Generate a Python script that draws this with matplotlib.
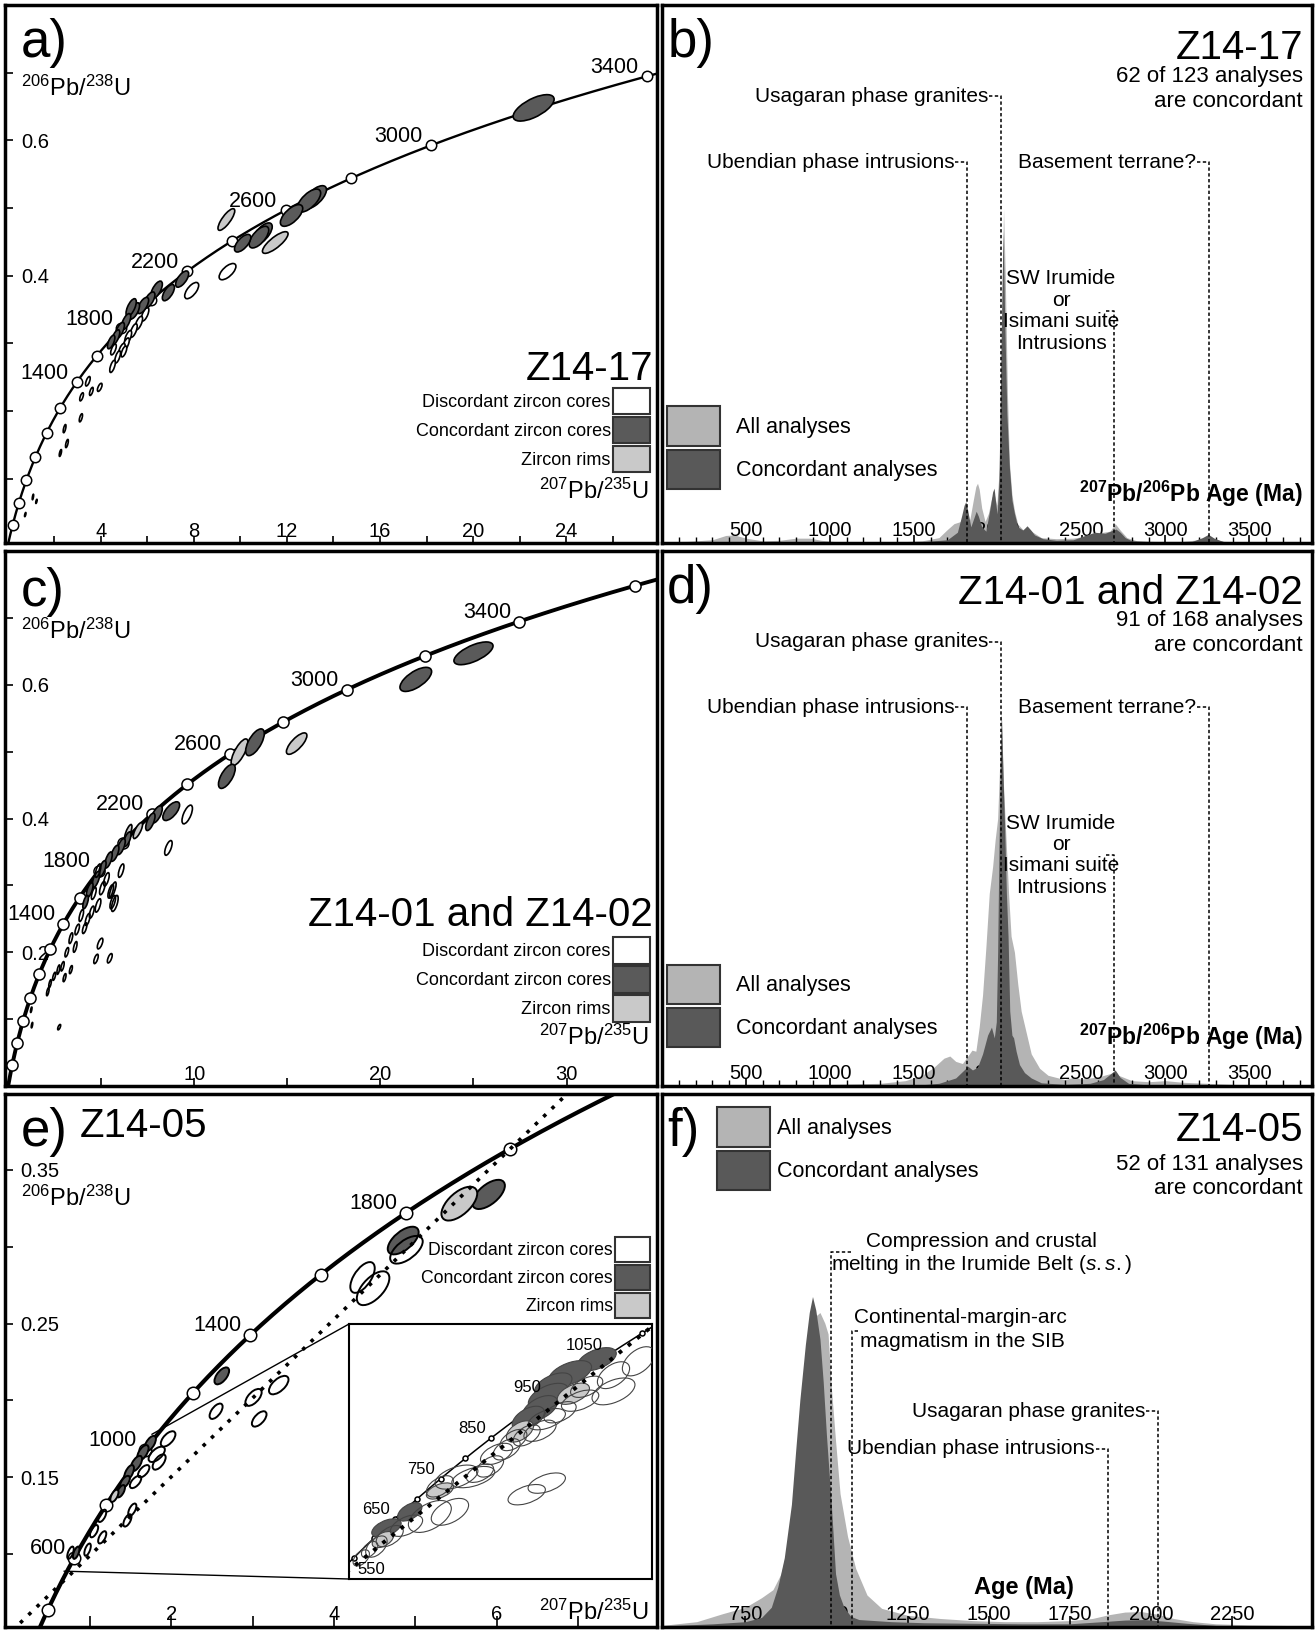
#!/usr/bin/env python3
import numpy as np
import matplotlib
matplotlib.use("Agg")
import matplotlib.pyplot as plt
from matplotlib import font_manager
from matplotlib.patches import Ellipse, Patch, ConnectionPatch
from matplotlib.ticker import MultipleLocator
from matplotlib.transforms import Affine2D, blended_transform_factory

# U-Pb decay constants, 1/Ma
L238 = 1.55125e-4
L235 = 9.8485e-4

# ---------------- a) Z14-17 concordia ----------------
a_marker_ages = [200, 400, 600, 800, 1000, 1200, 1400, 1600, 1800, 2000,
                 2200, 2400, 2600, 2800, 3000, 3200, 3400]
a_label_ages = [1400, 1800, 2200, 2600, 3000, 3400]
a_xticks = [2, 4, 6, 8, 10, 12, 14, 16, 18, 20, 22, 24, 26]
a_xticklabels = ['', '4', '', '8', '', '12', '', '16', '', '20', '', '24', '']
a_yticks = [0.1, 0.2, 0.3, 0.4, 0.5, 0.6, 0.7]
a_yticklabels = ['', '', '', '0.4', '', '0.6', '']
# ellipses: (207Pb/235U, 206Pb/238U, half-width x, half-width y)
a_conc = [(22.6, 0.648, 0.88, 0.0195), (13.2, 0.516, 0.50, 0.017), (12.95, 0.511, 0.50, 0.017),
          (12.2, 0.489, 0.48, 0.016), (10.95, 0.462, 0.42, 0.016), (10.8, 0.457, 0.42, 0.016),
          (10.1, 0.448, 0.35, 0.013), (7.5, 0.395, 0.28, 0.012), (6.91, 0.375, 0.26, 0.012),
          (6.4, 0.379, 0.25, 0.013), (6.09, 0.364, 0.24, 0.012), (5.82, 0.356, 0.24, 0.012),
          (5.45, 0.348, 0.22, 0.012), (5.31, 0.353, 0.22, 0.013), (5.09, 0.332, 0.20, 0.012),
          (4.82, 0.319, 0.20, 0.012), (4.64, 0.309, 0.18, 0.011), (4.45, 0.302, 0.16, 0.010)]
a_rims = [(9.4, 0.483, 0.36, 0.016), (11.5, 0.449, 0.55, 0.016)]
a_disc = [(9.45, 0.406, 0.36, 0.012), (7.91, 0.378, 0.30, 0.012), (5.91, 0.343, 0.16, 0.010),
          (5.64, 0.330, 0.16, 0.010), (5.42, 0.319, 0.15, 0.010), (5.18, 0.309, 0.15, 0.010),
          (5.09, 0.299, 0.14, 0.009), (4.91, 0.291, 0.14, 0.009), (4.73, 0.280, 0.12, 0.009),
          (4.55, 0.291, 0.12, 0.008), (4.51, 0.266, 0.12, 0.009), (5.0, 0.288, 0.12, 0.008),
          (3.45, 0.244, 0.10, 0.007), (3.96, 0.235, 0.10, 0.006), (3.6, 0.229, 0.08, 0.006),
          (3.18, 0.221, 0.08, 0.006), (3.15, 0.190, 0.07, 0.006), (2.45, 0.174, 0.06, 0.006),
          (2.55, 0.152, 0.06, 0.006), (2.27, 0.138, 0.05, 0.005), (1.09, 0.073, 0.03, 0.004),
          (1.24, 0.0665, 0.03, 0.003), (0.76, 0.047, 0.03, 0.003)]

# ---------------- b) Z14-17 density ----------------
b_all_age = [0, 150, 300, 380, 430, 500, 600, 700, 800, 880,
             950, 1050, 1200, 1400, 1550, 1650, 1700, 1740, 1780, 1810,
             1835, 1855, 1870, 1880, 1890, 1905, 1925, 1945, 1965, 1980,
             1995, 2010, 2022, 2035, 2045, 2058, 2070, 2085, 2100, 2120,
             2150, 2180, 2210, 2260, 2350, 2450, 2530, 2580, 2630, 2670,
             2700, 2730, 2770, 2830, 2950, 3100, 3200, 3250, 3290, 3350,
             3500, 3873]
b_all_dens = [0.2, 0.3, 0.6, 1.4, 1.5, 0.9, 0.4, 0.5, 0.9, 0.9,
              0.5, 0.2, 0.2, 0.2, 0.4, 1.0, 2.5, 3.6, 4.0, 3.8,
              4.5, 8.0, 10.5, 11.1, 10.0, 6.5, 4.0, 5.5, 8.5, 9.0,
              7.0, 14, 40, 62, 50, 28, 15, 9, 6, 3.5,
              2.5, 2.8, 2.0, 1.0, 0.8, 0.9, 1.3, 1.8, 2.0, 2.2,
              3.6, 2.4, 1.0, 0.4, 0.3, 0.3, 0.6, 1.1, 0.7, 0.3,
              0.2, 0.1]
b_conc_age = [0, 400, 900, 1500, 1700, 1760, 1785, 1800, 1810, 1822,
              1840, 1860, 1872, 1885, 1905, 1930, 1955, 1970, 1979, 1988,
              1997, 2008, 2020, 2032, 2043, 2055, 2070, 2085, 2100, 2120,
              2150, 2175, 2195, 2220, 2270, 2350, 2450, 2520, 2580, 2640,
              2680, 2705, 2730, 2760, 2800, 2950, 3150, 3220, 3255, 3290,
              3350, 3873]
b_conc_dens = [0.1, 0.2, 0.2, 0.1, 0.6, 2.0, 5.0, 7.0, 7.7, 6.0,
               3.0, 4.8, 5.9, 5.0, 3.0, 2.2, 6.5, 9.5, 10.2, 7.5,
               5.4, 12, 35, 58, 40, 24, 14, 8, 5.5, 3.0,
               2.4, 3.2, 2.5, 1.5, 0.8, 0.5, 0.6, 1.4, 2.0, 1.8,
               2.3, 2.6, 2.0, 1.0, 0.4, 0.2, 0.2, 1.0, 1.6, 0.9,
               0.2, 0.05]
bd_ticks = [500, 1000, 1500, 2000, 2500, 3000, 3500]
# event lines shared by b) and d): ages (Ma)
ubendian_age, usagaran_age, irumide_age, basement_age = 1820, 2020, 2694, 3260

# ---------------- c) Z14-01 and Z14-02 concordia ----------------
c_marker_ages = [200, 400, 600, 800, 1000, 1200, 1400, 1600, 1800, 2000,
                 2200, 2400, 2600, 2800, 3000, 3200, 3400, 3600]
c_label_ages = [1400, 1800, 2200, 2600, 3000, 3400]
c_xticks = [5, 10, 15, 20, 25, 30]
c_xticklabels = ['', '10', '', '20', '', '30']
c_yticks = [0.1, 0.2, 0.3, 0.4, 0.5, 0.6, 0.7]
c_yticklabels = ['', '0.2', '', '0.4', '', '0.6', '']
c_conc = [(25.0, 0.647, 1.05, 0.017), (21.9, 0.608, 0.85, 0.018), (13.26, 0.514, 0.50, 0.020),
          (11.75, 0.463, 0.45, 0.018), (8.76, 0.411, 0.45, 0.014), (7.98, 0.406, 0.30, 0.013),
          (7.64, 0.395, 0.25, 0.013), (6.4, 0.369, 0.20, 0.011), (6.07, 0.358, 0.22, 0.012),
          (5.73, 0.348, 0.22, 0.012), (5.39, 0.338, 0.20, 0.012), (5.06, 0.325, 0.20, 0.012),
          (4.72, 0.309, 0.20, 0.012), (4.38, 0.293, 0.18, 0.011), (4.16, 0.275, 0.15, 0.010)]
c_rims = [(15.5, 0.512, 0.55, 0.016), (12.43, 0.499, 0.45, 0.020), (6.97, 0.382, 0.25, 0.012),
          (6.45, 0.379, 0.20, 0.012), (5.62, 0.293, 0.18, 0.012)]
c_disc = [(9.62, 0.406, 0.28, 0.014), (8.61, 0.356, 0.20, 0.011), (6.07, 0.322, 0.15, 0.010),
          (5.73, 0.273, 0.18, 0.012), (5.51, 0.291, 0.15, 0.010), (4.83, 0.270, 0.15, 0.010),
          (4.49, 0.260, 0.13, 0.009), (4.27, 0.249, 0.13, 0.009), (3.93, 0.255, 0.12, 0.009),
          (4.11, 0.236, 0.12, 0.008), (3.71, 0.234, 0.12, 0.008), (3.37, 0.221, 0.10, 0.008),
          (3.6, 0.208, 0.10, 0.008), (3.15, 0.200, 0.10, 0.007), (4.94, 0.213, 0.15, 0.008),
          (4.72, 0.190, 0.12, 0.007), (5.46, 0.191, 0.13, 0.007), (2.92, 0.179, 0.09, 0.007),
          (2.7, 0.174, 0.08, 0.007), (2.47, 0.164, 0.08, 0.006), (3.37, 0.174, 0.08, 0.006),
          (3.03, 0.162, 0.08, 0.006), (2.25, 0.153, 0.07, 0.006), (2.13, 0.141, 0.07, 0.006),
          (1.24, 0.114, 0.04, 0.004), (1.28, 0.091, 0.04, 0.004), (2.74, 0.088, 0.08, 0.004),
          (4.83, 0.322, 0.15, 0.010), (5.28, 0.309, 0.15, 0.010), (5.06, 0.296, 0.15, 0.010),
          (4.6, 0.288, 0.13, 0.009), (5.62, 0.275, 0.15, 0.010)]

# ---------------- d) Z14-01 and Z14-02 density ----------------
d_all_age = [0, 500, 1000, 1300, 1450, 1550, 1620, 1680, 1715, 1750,
             1790, 1820, 1847, 1870, 1890, 1910, 1930, 1950, 1970, 1985,
             2000, 2012, 2022, 2035, 2050, 2065, 2080, 2100, 2120, 2140,
             2170, 2200, 2250, 2300, 2400, 2450, 2500, 2600, 2680, 2720,
             2800, 2900, 3000, 3100, 3250, 3400, 3600, 3873]
d_all_dens = [0.1, 0.2, 0.3, 0.5, 1.0, 2.0, 3.5, 5.2, 5.6, 4.6,
              4.2, 5.5, 6.7, 6.5, 11, 17, 26, 36, 41, 46,
              50, 60, 69.7, 56, 46, 36, 28, 25, 19, 14,
              10, 6, 3.3, 2.0, 1.2, 1.6, 1.3, 1.7, 2.4, 2.0,
              1.0, 0.8, 1.0, 0.7, 0.5, 0.3, 0.2, 0.1]
d_conc_age = [0, 1500, 1650, 1750, 1800, 1822, 1850, 1880, 1910, 1940,
              1963, 1980, 1992, 2000, 2008, 2015, 2022, 2032, 2042, 2052,
              2062, 2072, 2085, 2095, 2110, 2130, 2160, 2200, 2260, 2400,
              2550, 2630, 2670, 2700, 2730, 2780, 2900, 3100, 3400, 3873]
d_conc_dens = [0.05, 0.1, 0.5, 1.5, 3.0, 3.7, 3.0, 3.5, 6.0, 9.5,
               11, 9.0, 12, 25, 45, 58, 69.7, 58, 48, 36,
               28, 14, 9.5, 9.0, 6.5, 4.0, 2.5, 1.5, 0.6, 0.3,
               0.5, 1.2, 2.2, 3.0, 1.6, 0.5, 0.2, 0.2, 0.1, 0.05]

# ---------------- e) Z14-05 concordia ----------------
e_marker_ages = [400, 600, 800, 1000, 1200, 1400, 1600, 1800, 2000]
e_label_ages = [600, 1000, 1400, 1800]
e_xticks = [1, 2, 3, 4, 5, 6, 7]
e_xticklabels = ['', '2', '', '4', '', '6', '']
e_yticks = [0.10, 0.15, 0.20, 0.25, 0.30, 0.35]
e_yticklabels = ['', '0.15', '', '0.25', '', '0.35']
e_discordia_ages = [500, 2000]
e_zoom_corners = [(0.68, 0.089), (1.76, 0.178)]
e_conc = [(5.90, 0.334, 0.20, 0.0095), (4.85, 0.304, 0.19, 0.009), (2.62, 0.216, 0.09, 0.0055),
          (1.74, 0.172, 0.07, 0.005), (1.65, 0.166, 0.07, 0.005), (1.57, 0.159, 0.07, 0.005),
          (1.48, 0.153, 0.06, 0.005), (1.43, 0.147, 0.06, 0.004), (1.38, 0.141, 0.05, 0.004),
          (0.83, 0.101, 0.04, 0.004)]
e_rims = [(5.54, 0.328, 0.22, 0.011), (1.30, 0.138, 0.05, 0.004)]
e_disc = [(4.89, 0.298, 0.20, 0.009), (4.35, 0.280, 0.15, 0.010), (4.48, 0.273, 0.20, 0.011),
          (3.32, 0.210, 0.12, 0.006), (3.01, 0.202, 0.10, 0.0055), (3.08, 0.188, 0.09, 0.005),
          (2.55, 0.193, 0.08, 0.005), (1.96, 0.175, 0.09, 0.005), (1.82, 0.165, 0.10, 0.005),
          (1.85, 0.160, 0.08, 0.005), (1.66, 0.154, 0.07, 0.004), (1.56, 0.147, 0.07, 0.004),
          (1.52, 0.129, 0.05, 0.004), (1.46, 0.122, 0.05, 0.004), (1.15, 0.125, 0.05, 0.004),
          (1.05, 0.115, 0.05, 0.004), (1.15, 0.111, 0.05, 0.004), (0.97, 0.103, 0.04, 0.004),
          (0.76, 0.101, 0.04, 0.004)]
# inset of e)
in_marker_ages = [550, 600, 650, 700, 750, 800, 850, 900, 950, 1000, 1050, 1100]
in_label_ages = [550, 650, 750, 850, 950, 1050]
in_discordia_ages = [450, 1110]
in_conc = [(1.762, 0.1749, 0.083, 0.0050), (1.647, 0.1688, 0.092, 0.0055), (1.575, 0.1638, 0.080, 0.0052),
           (1.554, 0.1588, 0.086, 0.0057), (1.518, 0.1537, 0.075, 0.0055), (1.468, 0.1494, 0.069, 0.0052),
           (0.96, 0.109, 0.052, 0.0040), (0.86, 0.102, 0.063, 0.0040)]
in_rims = [(0.845, 0.097, 0.046, 0.0035), (1.089, 0.118, 0.058, 0.0035), (1.432, 0.1437, 0.058, 0.0046),
           (1.661, 0.160, 0.069, 0.0046)]
in_disc = [(1.94, 0.174, 0.069, 0.0063), (1.833, 0.168, 0.069, 0.0058), (1.833, 0.161, 0.092, 0.0058),
           (1.718, 0.163, 0.069, 0.0046), (1.69, 0.157, 0.080, 0.0046), (1.604, 0.152, 0.069, 0.0046),
           (1.547, 0.149, 0.080, 0.0046), (1.518, 0.144, 0.069, 0.0046), (1.461, 0.142, 0.058, 0.0046),
           (1.404, 0.140, 0.058, 0.0046), (1.375, 0.136, 0.058, 0.0046), (1.332, 0.134, 0.069, 0.0046),
           (1.304, 0.1286, 0.058, 0.0046), (1.261, 0.1257, 0.058, 0.0040), (1.232, 0.124, 0.092, 0.0046),
           (1.16, 0.124, 0.092, 0.0052), (1.089, 0.120, 0.058, 0.0046), (1.132, 0.109, 0.080, 0.0058),
           (1.046, 0.107, 0.092, 0.0069), (0.946, 0.103, 0.069, 0.0046), (0.874, 0.0985, 0.058, 0.0046),
           (0.817, 0.094, 0.046, 0.0046), (1.547, 0.1214, 0.080, 0.0044), (1.461, 0.1164, 0.080, 0.0044),
           (0.788, 0.0927, 0.035, 0.0035), (0.752, 0.0891, 0.035, 0.0035)]

# ---------------- f) Z14-05 density ----------------
f_all_age = [493, 600, 680, 750, 800, 835, 860, 880, 900, 920,
             940, 960, 980, 995, 1005, 1015, 1028, 1042, 1065, 1090,
             1125, 1170, 1250, 1350, 1450, 1550, 1650, 1750, 1820, 1870,
             1920, 1970, 2020, 2070, 2130, 2200, 2300, 2400, 2497]
f_all_dens = [0.3, 1.0, 2.5, 3.7, 5.5, 7.0, 10, 15, 25, 38,
              50, 58, 59, 57, 55, 45, 35, 25, 17, 11,
              6, 3.5, 2.2, 1.6, 1.2, 1.0, 1.0, 1.2, 1.6, 2.3,
              2.8, 2.9, 2.4, 1.6, 1.0, 0.6, 0.4, 0.3, 0.2]
f_conc_age = [493, 650, 750, 800, 830, 850, 870, 892, 905, 918,
              935, 947, 957, 967, 980, 990, 1000, 1015, 1028, 1040,
              1054, 1075, 1100, 1200, 1300, 1450, 1600, 1750, 1850, 1920,
              1980, 2040, 2110, 2200, 2497]
f_conc_dens = [0.2, 0.6, 1.0, 1.8, 3.7, 7.5, 13, 23, 33, 42.6,
               53, 59, 62, 59.5, 54, 46, 36, 23, 10, 6,
               3.7, 2.0, 1.4, 1.0, 0.8, 0.7, 0.6, 0.6, 1.0, 1.3,
               1.4, 1.1, 0.7, 0.3, 0.1]
f_ticks = [750, 1000, 1250, 1500, 1750, 2000, 2250]
f_irumide_age, f_sib_age, f_ubendian_age, f_usagaran_age = 1015, 1079, 1868, 2023

# ---------------- style ----------------
names = {f.name for f in font_manager.fontManager.ttflist}
FONT = 'Liberation Sans' if 'Liberation Sans' in names else 'DejaVu Sans'
plt.rcParams['font.family'] = FONT
plt.rcParams['mathtext.fontset'] = 'custom'
plt.rcParams['mathtext.rm'] = FONT
plt.rcParams['mathtext.it'] = FONT + ':italic'
plt.rcParams['mathtext.bf'] = FONT + ':bold'

DARK = '#5a5a5a'
RIM = '#c9c9c9'
KDE_ALL = '#b4b4b4'
KDE_CONC = '#595959'
DASH = (0, (2.2, 1.6))
TICK_SIZE = 14.5
Y_LABEL = r'$\mathregular{^{206}Pb/^{238}U}$'
X_LABEL = r'$\mathregular{^{207}Pb/^{235}U}$'


def concordia(t):
    t = np.asarray(t, dtype=float)
    return np.exp(L235 * t) - 1, np.exp(L238 * t) - 1


def add_ellipses(ax, rows, face, rho, lw=1.2, edge='black', z=4):
    for x, y, sx, sy in rows:
        m = np.array([[sx, 0.0, x],
                      [sy * rho, sy * np.sqrt(1 - rho ** 2), y],
                      [0.0, 0.0, 1.0]])
        ax.add_patch(Ellipse((0, 0), 2, 2, transform=Affine2D(m) + ax.transData,
                             facecolor=face, edgecolor=edge, linewidth=lw, zorder=z))


def draw_concordia(ax, t_max, marker_ages, label_ages, lw, ms, size, off=(-6, -1)):
    t = np.linspace(0, t_max, 800)
    cx, cy = concordia(t)
    ax.plot(cx, cy, color='black', lw=lw, zorder=2)
    mx, my = concordia(marker_ages)
    ax.plot(mx, my, 'o', ms=ms, mfc='white', mec='black', mew=1.1, zorder=3)
    lx, ly = concordia(label_ages)
    for age, x, y in zip(label_ages, lx, ly):
        ax.annotate(str(age), (x, y), xytext=off, textcoords='offset points',
                    ha='right', va='bottom', fontsize=size, zorder=7)


def concordia_axes(ax, xlim, ylim, xticks, xlabels, yticks, ylabels, xpad, ypad, xlen):
    ax.set_xlim(*xlim)
    ax.set_ylim(*ylim)
    ax.set_xticks(xticks, xlabels)
    ax.set_yticks(yticks, ylabels)
    ax.tick_params(axis='x', direction='in', length=xlen, width=1.2, labelsize=TICK_SIZE, pad=xpad)
    ax.tick_params(axis='y', direction='in', length=6, width=1.2, labelsize=TICK_SIZE, pad=ypad)
    plt.setp(ax.get_xticklabels(), va='bottom')
    plt.setp(ax.get_yticklabels(), ha='left')


def zircon_legend(ax, anchor, size, hl, hh):
    handles = [Patch(fc='white', ec='#333333', lw=1.5),
               Patch(fc=DARK, ec='#333333', lw=1.5),
               Patch(fc=RIM, ec='#333333', lw=1.5)]
    labels = ['Discordant zircon cores', 'Concordant zircon cores', 'Zircon rims']
    lg = ax.legend(handles, labels, loc='lower right', bbox_to_anchor=anchor, frameon=False,
                   markerfirst=False, fontsize=size, handlelength=hl, handleheight=hh,
                   handletextpad=0.15, labelspacing=0.14, borderpad=0, borderaxespad=0)
    lg.set_zorder(8)


def kde_legend(ax, loc, anchor, pad):
    handles = [Patch(fc=KDE_ALL, ec='#333333', lw=1.5), Patch(fc=KDE_CONC, ec='#333333', lw=1.5)]
    lg = ax.legend(handles, ['All analyses', 'Concordant analyses'], loc=loc, bbox_to_anchor=anchor,
                   frameon=False, fontsize=15.5, handlelength=2.45, handleheight=2.44,
                   handletextpad=pad, labelspacing=0.18, borderpad=0, borderaxespad=0)
    lg.set_zorder(8)


def kde_axes(ax, all_age, all_dens, conc_age, conc_dens, xlim, ticks, minor, major_len, pad):
    ax.fill_between(all_age, all_dens, 0, color=KDE_ALL, lw=0, zorder=1)
    ax.fill_between(conc_age, conc_dens, 0, color=KDE_CONC, lw=0, zorder=2)
    ax.set_xlim(*xlim)
    ax.set_ylim(0, 100)
    ax.set_yticks([])
    ax.set_xticks(ticks, [str(v) for v in ticks])
    if minor:
        ax.xaxis.set_minor_locator(MultipleLocator(minor))
    ax.tick_params(axis='x', which='major', direction='in', length=major_len, width=1.2,
                   labelsize=TICK_SIZE, pad=pad)
    ax.tick_params(axis='x', which='minor', direction='in', length=4, width=1.0)
    plt.setp(ax.get_xticklabels(), va='bottom')


def px_to_data(ax, px):
    x0, x1 = ax.get_xlim()
    return px * (x1 - x0) / ax.bbox.width


def dashed(ax, xs, ys):
    tr = blended_transform_factory(ax.transData, ax.transAxes)
    ax.plot(xs, ys, transform=tr, color='black', lw=1.1, ls=DASH, zorder=6)


def label_left(ax, text, age, yfrac, size=15):
    gap = px_to_data(ax, 13)
    tr = blended_transform_factory(ax.transData, ax.transAxes)
    ax.text(age - gap, yfrac, text, transform=tr, ha='right', va='center', fontsize=size, zorder=7)
    dashed(ax, [age - gap + px_to_data(ax, 1), age, age], [yfrac, yfrac, 0])


def block_text(ax, lines, x, yfracs, ha='center', size=15):
    tr = blended_transform_factory(ax.transData, ax.transAxes)
    for s, y in zip(lines, yfracs):
        ax.text(x, y, s, transform=tr, ha=ha, va='center', fontsize=size, zorder=7)


def frame(ax, lw=2.5):
    for s in ax.spines.values():
        s.set_linewidth(lw)


def atext(ax, x, y, s, **kw):
    ax.text(x, y, s, transform=ax.transAxes, zorder=9, **kw)


# ---------------- figure ----------------
fig = plt.figure(figsize=(13.15, 16.3), dpi=100)


def panel(l, t, r, b):
    return fig.add_axes([l / 1315, 1 - b / 1630, (r - l) / 1315, (b - t) / 1630])


ax_a = panel(5, 5, 657, 543)
ax_b = panel(662, 5, 1312, 543)
ax_c = panel(5, 551, 657, 1086)
ax_d = panel(662, 551, 1312, 1086)
ax_e = panel(5, 1094, 657, 1627)
ax_f = panel(662, 1094, 1312, 1627)

# ---- a)
draw_concordia(ax_a, 3800, a_marker_ages, a_label_ages, lw=1.7, ms=7.5, size=15.5)
add_ellipses(ax_a, a_disc, 'white', 0.65)
add_ellipses(ax_a, a_rims, RIM, 0.8)
add_ellipses(ax_a, a_conc, DARK, 0.65)
concordia_axes(ax_a, (-0.11, 27.9), (0.005, 0.8), a_xticks, a_xticklabels, a_yticks, a_yticklabels,
               xpad=-1.5, ypad=-12, xlen=5)
atext(ax_a, 0.024, 0.975, 'a)', fontsize=38, ha='left', va='top')
atext(ax_a, 0.024, 0.845, Y_LABEL, fontsize=17, ha='left', va='center')
atext(ax_a, 0.994, 0.323, 'Z14-17', fontsize=29, ha='right', va='center')
atext(ax_a, 0.987, 0.097, X_LABEL, fontsize=17, ha='right', va='center')
zircon_legend(ax_a, (0.99, 0.1315), 13, 2.05, 1.88)

# ---- b)
kde_axes(ax_b, b_all_age, b_all_dens, b_conc_age, b_conc_dens, (0, 3873), bd_ticks, 100, 6, -2)


def event_lines(ax):
    label_left(ax, 'Usagaran phase granites', usagaran_age, 0.830)
    label_left(ax, 'Ubendian phase intrusions', ubendian_age, 0.708)
    label_left(ax, 'Basement terrane?', basement_age, 0.708)
    block_text(ax, ['SW Irumide', 'or', 'Isimani suite', 'Intrusions'], 2378,
               [0.491, 0.451, 0.412, 0.371])
    dashed(ax, [irumide_age - px_to_data(ax, 8), irumide_age, irumide_age], [0.432, 0.432, 0])


event_lines(ax_b)
atext(ax_b, 0.008, 0.975, 'b)', fontsize=38, ha='left', va='top')
atext(ax_b, 0.986, 0.955, 'Z14-17', fontsize=29, ha='right', va='top')
atext(ax_b, 0.986, 0.867, '62 of 123 analyses', fontsize=16, ha='right', va='center')
atext(ax_b, 0.986, 0.820, 'are concordant', fontsize=16, ha='right', va='center')
atext(ax_b, 0.986, 0.091, r'$\mathbf{^{207}Pb/^{206}Pb}$ Age (Ma)', fontsize=16.5,
      fontweight='bold', ha='right', va='center')
kde_legend(ax_b, 'lower left', (0.008, 0.10), 0.73)

# ---- c)
draw_concordia(ax_c, 3900, c_marker_ages, c_label_ages, lw=2.8, ms=8, size=15.5)
add_ellipses(ax_c, c_rims, RIM, 0.75)
add_ellipses(ax_c, c_conc, DARK, 0.65)
add_ellipses(ax_c, c_disc, 'none', 0.65)
concordia_axes(ax_c, (-0.17, 34.86), (0.0, 0.8), c_xticks, c_xticklabels, c_yticks, c_yticklabels,
               xpad=-1.5, ypad=-12, xlen=6)
atext(ax_c, 0.024, 0.971, 'c)', fontsize=38, ha='left', va='top')
atext(ax_c, 0.024, 0.850, Y_LABEL, fontsize=17, ha='left', va='center')
atext(ax_c, 0.994, 0.320, 'Z14-01 and Z14-02', fontsize=29, ha='right', va='center')
atext(ax_c, 0.987, 0.091, X_LABEL, fontsize=17, ha='right', va='center')
zircon_legend(ax_c, (0.99, 0.12), 13, 2.05, 1.88)

# ---- d)
kde_axes(ax_d, d_all_age, d_all_dens, d_conc_age, d_conc_dens, (0, 3873), bd_ticks, 100, 6, -2)
event_lines(ax_d)
atext(ax_d, 0.008, 0.975, 'd)', fontsize=38, ha='left', va='top')
atext(ax_d, 0.986, 0.957, 'Z14-01 and Z14-02', fontsize=29, ha='right', va='top')
atext(ax_d, 0.986, 0.870, '91 of 168 analyses', fontsize=16, ha='right', va='center')
atext(ax_d, 0.986, 0.823, 'are concordant', fontsize=16, ha='right', va='center')
atext(ax_d, 0.986, 0.091, r'$\mathbf{^{207}Pb/^{206}Pb}$ Age (Ma)', fontsize=16.5,
      fontweight='bold', ha='right', va='center')
kde_legend(ax_d, 'lower left', (0.008, 0.072), 0.73)

# ---- e)
draw_concordia(ax_e, 2300, e_marker_ages, e_label_ages, lw=3.0, ms=9, size=15.5)
add_ellipses(ax_e, e_conc, DARK, 0.6, lw=1.4)
add_ellipses(ax_e, e_rims, RIM, 0.6, lw=1.4)
add_ellipses(ax_e, e_disc, 'none', 0.6, lw=1.4)
dx, dy = concordia(e_discordia_ages)
s = np.array([-0.3, 1.4])
ax_e.plot(dx[0] + s * (dx[1] - dx[0]), dy[0] + s * (dy[1] - dy[0]), color='black', lw=2.6,
          ls=(0, (1, 2.2)), zorder=5)
concordia_axes(ax_e, (-0.045, 7.97), (0.0527, 0.3993), e_xticks, e_xticklabels, e_yticks,
               e_yticklabels, xpad=-2, ypad=-11, xlen=8)
atext(ax_e, 0.024, 0.975, 'e)', fontsize=38, ha='left', va='top')
atext(ax_e, 0.115, 0.940, 'Z14-05', fontsize=29, ha='left', va='center')
atext(ax_e, 0.024, 0.805, Y_LABEL, fontsize=17, ha='left', va='center')
atext(ax_e, 0.987, 0.028, X_LABEL, fontsize=17, ha='right', va='center')
zircon_legend(ax_e, (0.99, 0.579), 12.7, 2.0, 1.85)

ax_in = panel(349, 1324, 652, 1579)
ax_in.set_zorder(ax_e.get_zorder() + 1)
draw_concordia(ax_in, 1300, in_marker_ages, [], lw=1.1, ms=3.6, size=11)
add_ellipses(ax_in, in_conc, DARK, 0.5, lw=0.8, edge='#444444')
add_ellipses(ax_in, in_rims, RIM, 0.5, lw=0.8, edge='#444444')
add_ellipses(ax_in, in_disc, 'none', 0.5, lw=0.8, edge='#444444')
ix, iy = concordia(in_discordia_ages)
s = np.array([-0.3, 1.2])
ax_in.plot(ix[0] + s * (ix[1] - ix[0]), iy[0] + s * (iy[1] - iy[0]), color='black', lw=2.8,
           ls=(0, (1, 2.0)), zorder=5)
lx, ly = concordia(in_label_ages)
for age, x, y in zip(in_label_ages, lx, ly):
    if age == in_label_ages[0]:
        ax_in.annotate(str(age), (x, y), xytext=(3, -3), textcoords='offset points',
                       ha='left', va='top', fontsize=12, zorder=7)
    else:
        ax_in.annotate(str(age), (x, y), xytext=(-4, 1), textcoords='offset points',
                       ha='right', va='bottom', fontsize=12, zorder=7)
ax_in.set_xlim(0.6995, 1.998)
ax_in.set_ylim(0.0800, 0.1901)
ax_in.set_xticks([])
ax_in.set_yticks([])
frame(ax_in, 1.5)
for corner_data, corner_ax in zip(e_zoom_corners, [(0, 0), (0, 1)]):
    fig.add_artist(ConnectionPatch(xyA=corner_data, coordsA='data', axesA=ax_e,
                                   xyB=corner_ax, coordsB='axes fraction', axesB=ax_in,
                                   color='black', lw=1.0, zorder=10))

# ---- f)
kde_axes(ax_f, f_all_age, f_all_dens, f_conc_age, f_conc_dens, (493, 2497), f_ticks, None, 8, -2.5)
label_left(ax_f, 'Usagaran phase granites', f_usagaran_age, 0.405)
label_left(ax_f, 'Ubendian phase intrusions', f_ubendian_age, 0.334)
block_text(ax_f, ['Compression and crustal', r'melting in the Irumide Belt ($\mathit{s.s.}$)'], 1478,
           [0.723, 0.680])
dashed(ax_f, [f_irumide_age + px_to_data(ax_f, 20), f_irumide_age, f_irumide_age], [0.703, 0.703, 0])
block_text(ax_f, ['Continental-margin-arc'], 1084, [0.580], ha='left')
block_text(ax_f, ['magmatism in the SIB'], 1103, [0.535], ha='left')
dashed(ax_f, [f_sib_age + px_to_data(ax_f, 6), f_sib_age, f_sib_age], [0.555, 0.555, 0])
atext(ax_f, 0.008, 0.975, 'f)', fontsize=38, ha='left', va='top')
atext(ax_f, 0.986, 0.969, 'Z14-05', fontsize=29, ha='right', va='top')
atext(ax_f, 0.986, 0.867, '52 of 131 analyses', fontsize=16, ha='right', va='center')
atext(ax_f, 0.986, 0.823, 'are concordant', fontsize=16, ha='right', va='center')
ax_f.text(1609, 0.074, 'Age (Ma)', transform=blended_transform_factory(ax_f.transData, ax_f.transAxes),
          fontsize=17, fontweight='bold', ha='center', va='center', zorder=9)
kde_legend(ax_f, 'upper left', (0.085, 0.975), 0.34)

for ax in (ax_a, ax_b, ax_c, ax_d, ax_e, ax_f):
    frame(ax)

fig.savefig('out.png', dpi=100, facecolor='white')
